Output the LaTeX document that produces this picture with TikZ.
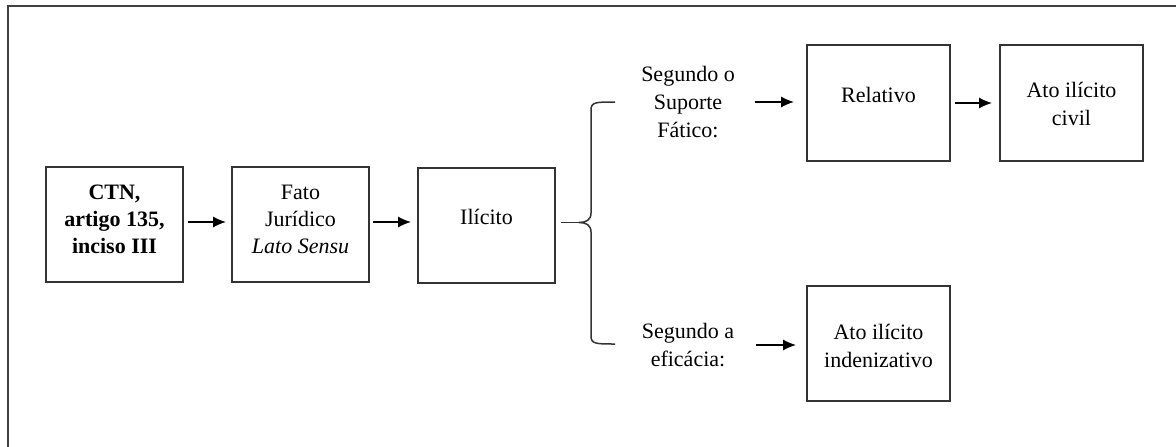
\documentclass[tikz,border=0pt]{standalone}
\usepackage{fontspec}
\setmainfont{Liberation Serif}
\usetikzlibrary{arrows.meta}
\begin{document}
\begin{tikzpicture}[x=1pt,y=-1pt,
  box/.style={draw=black!80,line width=1.7pt,rectangle,inner sep=0pt},
  txt/.style={align=center,inner sep=0pt,font=\fontsize{22}{28}\selectfont,text=black},
  arr/.style={draw=black,line width=1.7pt,-{Latex[length=13pt,width=11pt]}},
  frame/.style={draw=black!75,line width=1.8pt}]
\useasboundingbox (0,0) rectangle (1176,447);
% frame (top and left sides only)
\coordinate (ftr) at (1176,6);
\coordinate (ftl) at (8,6);
\coordinate (fbl) at (8,447);
\draw[frame] (ftr) -- (ftl) -- (fbl);
% boxes
\node[box,minimum width=137pt,minimum height=115pt] (ctn) at (114.5,224.5) {};
\node[box,minimum width=137pt,minimum height=115pt] (fato) at (300.5,224.5) {};
\node[box,minimum width=137pt,minimum height=115pt] (ilic) at (486.5,225.5) {};
\node[box,minimum width=143pt,minimum height=116pt] (rel) at (878.5,103) {};
\node[box,minimum width=143pt,minimum height=116pt] (civ) at (1071.5,103) {};
\node[box,minimum width=143pt,minimum height=115pt] (ind) at (878.5,343.5) {};
% texts
\node[txt,font=\fontsize{22}{27}\selectfont\bfseries] (tctn) at (114.5,219) {CTN,\\artigo 135,\\inciso III};
\node[txt,font=\fontsize{22}{27}\selectfont] (tfato) at (300.5,219) {Fato\\Jurídico\\\textit{Lato Sensu}};
\node[txt] (tilic) at (486.5,217) {Ilícito};
\node[txt] (trel) at (878.5,95) {Relativo};
\node[txt] (tciv) at (1071.5,104) {Ato ilícito\\civil};
\node[txt] (tind) at (878.5,346) {Ato ilícito\\indenizativo};
\node[txt] (lab1) at (688,102) {Segundo o\\Suporte\\Fático:};
\node[txt] (lab2) at (688,345) {Segundo a\\eficácia:};
% arrows
\draw[arr,shorten <=4pt,shorten >=5pt] ([yshift=2.5pt]ctn.east) -- ([yshift=2.5pt]fato.west);
\draw[arr,shorten <=3pt,shorten >=6pt] ([yshift=2.5pt]fato.east) -- ([yshift=2.5pt]fato.east -| ilic.west);
\draw[arr,shorten <=4pt,shorten >=7pt] (rel.east) -- (civ.west);
\draw[arr,shorten <=20pt,shorten >=12pt] (lab1.east) -- (lab1.east -| rel.west);
\draw[arr,shorten <=22pt,shorten >=10pt] (lab2.east) -- (lab2.east -| ind.west);
% brace
\coordinate (cusp) at (579,222.5);
\coordinate (btop) at (615,102);
\coordinate (bbot) at (615,344);
\draw[draw=black!80,line width=1.5pt] ([xshift=5pt,yshift=3pt]ilic.east) -- (cusp);
\draw[draw=black!80,line width=1.5pt,line join=round]
  (btop) .. controls (596,102) and (591,102) .. (591,110)
  -- (591,213) .. controls (591,220) and (586,222.5) .. (cusp)
  .. controls (586,222.5) and (591,225) .. (591,232)
  -- (591,336) .. controls (591,344) and (596,344) .. (bbot);
\end{tikzpicture}
\end{document}
